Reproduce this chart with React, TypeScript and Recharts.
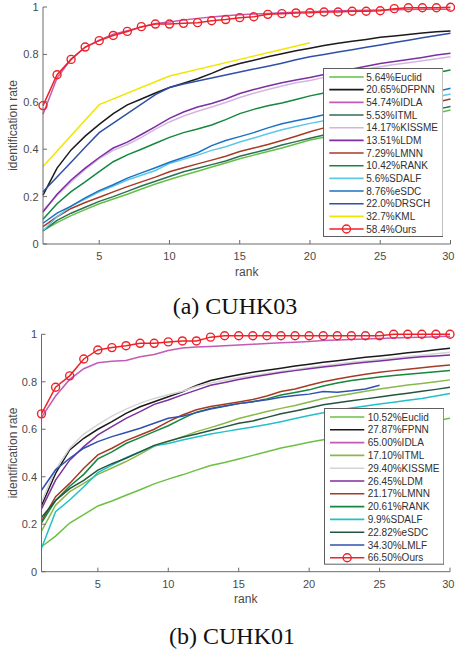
import React from 'react';
import { LineChart, Line, XAxis, YAxis, Legend, Label } from 'recharts';

// ---------- shared axis data ----------
const ranks = [1, 2, 3, 4, 5, 6, 7, 8, 9, 10, 11, 12, 13, 14, 15, 16, 17, 18, 19, 20, 21, 22, 23, 24, 25, 26, 27, 28, 29, 30];
const xTicks = [5, 10, 15, 20, 25, 30];
const yTicks = [0, 0.2, 0.4, 0.6, 0.8, 1];

// ---------- (a) CUHK03 ----------
const euclidA = [0.0564, 0.09, 0.12, 0.145, 0.17, 0.19, 0.21, 0.232, 0.253, 0.272, 0.29, 0.307, 0.325, 0.342, 0.36, 0.375, 0.39, 0.405, 0.422, 0.439, 0.45, 0.462, 0.475, 0.488, 0.5, 0.512, 0.525, 0.538, 0.552, 0.565];
const dfpnnA = [0.2065, 0.32, 0.397, 0.455, 0.505, 0.55, 0.587, 0.612, 0.637, 0.66, 0.678, 0.697, 0.72, 0.745, 0.762, 0.775, 0.79, 0.803, 0.815, 0.826, 0.838, 0.847, 0.855, 0.863, 0.872, 0.878, 0.884, 0.89, 0.896, 0.899];
const idlaA = [0.5474, 0.7, 0.78, 0.83, 0.86, 0.885, 0.9, 0.915, 0.93, 0.937, 0.945, 0.952, 0.958, 0.963, 0.967, 0.97, 0.973, 0.976, 0.978, 0.98, 0.982, 0.984, 0.985, 0.986, 0.987, 0.988, 0.989, 0.99, 0.99, 0.991];
const itmlA = [0.0553, 0.1, 0.13, 0.155, 0.18, 0.2, 0.222, 0.245, 0.265, 0.285, 0.305, 0.32, 0.335, 0.35, 0.37, 0.385, 0.4, 0.418, 0.432, 0.446, 0.46, 0.475, 0.49, 0.505, 0.518, 0.53, 0.542, 0.555, 0.568, 0.58];
const kissmeA = [0.1417, 0.205, 0.262, 0.315, 0.36, 0.395, 0.42, 0.45, 0.485, 0.515, 0.54, 0.56, 0.578, 0.597, 0.618, 0.636, 0.652, 0.667, 0.68, 0.69, 0.703, 0.715, 0.727, 0.738, 0.748, 0.757, 0.765, 0.773, 0.782, 0.79];
const ldmA = [0.1351, 0.21, 0.27, 0.32, 0.365, 0.405, 0.43, 0.462, 0.495, 0.53, 0.557, 0.578, 0.593, 0.612, 0.635, 0.652, 0.667, 0.68, 0.692, 0.703, 0.715, 0.727, 0.738, 0.75, 0.762, 0.77, 0.778, 0.787, 0.797, 0.805];
const lmnnA = [0.0729, 0.115, 0.15, 0.175, 0.197, 0.22, 0.242, 0.262, 0.282, 0.305, 0.322, 0.338, 0.354, 0.37, 0.39, 0.405, 0.42, 0.437, 0.455, 0.474, 0.49, 0.505, 0.518, 0.532, 0.545, 0.558, 0.57, 0.584, 0.598, 0.612];
const rankA = [0.1042, 0.17, 0.221, 0.262, 0.305, 0.347, 0.376, 0.4, 0.425, 0.45, 0.47, 0.485, 0.502, 0.525, 0.55, 0.568, 0.583, 0.595, 0.61, 0.625, 0.637, 0.647, 0.657, 0.667, 0.678, 0.69, 0.7, 0.712, 0.723, 0.734];
const sdalfA = [0.056, 0.115, 0.16, 0.19, 0.22, 0.245, 0.27, 0.29, 0.31, 0.34, 0.357, 0.375, 0.395, 0.41, 0.43, 0.447, 0.465, 0.482, 0.496, 0.509, 0.52, 0.532, 0.545, 0.557, 0.568, 0.58, 0.592, 0.605, 0.62, 0.633];
const esdcA = [0.0876, 0.13, 0.16, 0.195, 0.225, 0.25, 0.278, 0.3, 0.322, 0.345, 0.365, 0.385, 0.415, 0.437, 0.453, 0.47, 0.49, 0.507, 0.52, 0.532, 0.545, 0.557, 0.568, 0.58, 0.59, 0.603, 0.616, 0.63, 0.643, 0.657];
const drschA = [0.22, 0.283, 0.345, 0.408, 0.47, 0.51, 0.55, 0.59, 0.63, 0.66, 0.675, 0.688, 0.7, 0.713, 0.726, 0.738, 0.75, 0.763, 0.777, 0.79, 0.8, 0.81, 0.82, 0.83, 0.84, 0.85, 0.86, 0.87, 0.88, 0.889];
const kmlA = [0.327, null, null, null, 0.588, null, null, null, null, 0.709, null, null, null, null, 0.779, null, null, null, null, 0.849, null, null, null, null, null, null, null, null, null, null];
const oursA = [0.584, 0.714, 0.779, 0.831, 0.858, 0.88, 0.897, 0.917, 0.928, 0.928, 0.931, 0.934, 0.942, 0.947, 0.955, 0.959, 0.969, 0.972, 0.975, 0.976, 0.979, 0.979, 0.982, 0.982, 0.984, 0.993, 0.997, 0.997, 0.997, 0.999];

const labelsA = ['5.64%Euclid', '20.65%DFPNN', '54.74%IDLA', '5.53%ITML', '14.17%KISSME', '13.51%LDM', '7.29%LMNN', '10.42%RANK', '5.6%SDALF', '8.76%eSDC', '22.0%DRSCH', '32.7%KML', '58.4%Ours'];
const colorsA = ['#62c046', '#1a1a1a', '#c25bb5', '#2f6f55', '#d3b5e2', '#7b2fa0', '#a83a25', '#13883e', '#5dc8e6', '#1b72c2', '#2f50a8', '#f2e600', '#ee2228'];
const valuesA = [euclidA, dfpnnA, idlaA, itmlA, kissmeA, ldmA, lmnnA, rankA, sdalfA, esdcA, drschA, kmlA, oursA];

// ---------- (b) CUHK01 ----------
const euclidB = [0.1052, 0.15, 0.205, 0.24, 0.277, 0.298, 0.322, 0.345, 0.37, 0.39, 0.408, 0.428, 0.447, 0.46, 0.475, 0.49, 0.505, 0.521, 0.533, 0.545, 0.556, 0.566, 0.576, 0.586, 0.596, 0.606, 0.616, 0.626, 0.636, 0.646];
const fpnnB = [0.2787, 0.414, 0.513, 0.562, 0.6, 0.632, 0.667, 0.695, 0.716, 0.737, 0.758, 0.785, 0.805, 0.818, 0.83, 0.84, 0.849, 0.857, 0.866, 0.874, 0.882, 0.889, 0.896, 0.903, 0.909, 0.915, 0.922, 0.928, 0.935, 0.941];
const idlaB = [0.65, 0.74, 0.81, 0.855, 0.88, 0.886, 0.89, 0.905, 0.915, 0.932, 0.942, 0.946, 0.949, 0.952, 0.955, 0.958, 0.961, 0.964, 0.967, 0.97, 0.974, 0.976, 0.978, 0.98, 0.982, 0.984, 0.986, 0.988, 0.99, 0.992];
const itmlB = [0.171, 0.28, 0.337, 0.372, 0.41, 0.437, 0.464, 0.495, 0.528, 0.548, 0.568, 0.59, 0.607, 0.625, 0.645, 0.66, 0.675, 0.688, 0.7, 0.715, 0.73, 0.74, 0.75, 0.76, 0.77, 0.778, 0.786, 0.793, 0.8, 0.808];
const kissmeB = [0.294, 0.43, 0.52, 0.58, 0.62, 0.655, 0.685, 0.71, 0.73, 0.745, 0.76, 0.78, 0.795, 0.806, 0.817, 0.826, 0.835, 0.843, 0.852, 0.86, 0.868, 0.875, 0.882, 0.888, 0.894, 0.9, 0.906, 0.912, 0.918, 0.924];
const ldmB = [0.2645, 0.386, 0.47, 0.527, 0.576, 0.611, 0.646, 0.674, 0.705, 0.723, 0.745, 0.765, 0.785, 0.797, 0.81, 0.82, 0.83, 0.839, 0.847, 0.855, 0.862, 0.869, 0.876, 0.882, 0.888, 0.894, 0.9, 0.905, 0.909, 0.913];
const lmnnB = [0.2117, 0.316, 0.372, 0.436, 0.492, 0.52, 0.552, 0.576, 0.6, 0.632, 0.66, 0.682, 0.696, 0.705, 0.715, 0.725, 0.74, 0.759, 0.77, 0.785, 0.8, 0.812, 0.822, 0.832, 0.84, 0.847, 0.853, 0.859, 0.865, 0.871];
const rankB = [0.2061, 0.3, 0.36, 0.41, 0.475, 0.505, 0.54, 0.565, 0.59, 0.615, 0.645, 0.672, 0.688, 0.698, 0.708, 0.716, 0.728, 0.744, 0.755, 0.766, 0.782, 0.795, 0.805, 0.813, 0.82, 0.826, 0.832, 0.837, 0.842, 0.847];
const sdalfB = [0.099, 0.253, 0.302, 0.358, 0.417, 0.449, 0.48, 0.505, 0.53, 0.54, 0.555, 0.567, 0.58, 0.59, 0.6, 0.61, 0.62, 0.632, 0.645, 0.658, 0.67, 0.68, 0.69, 0.698, 0.706, 0.714, 0.722, 0.73, 0.74, 0.751];
const esdcB = [0.2282, 0.3, 0.35, 0.385, 0.428, 0.455, 0.478, 0.505, 0.532, 0.55, 0.566, 0.58, 0.595, 0.61, 0.625, 0.635, 0.65, 0.665, 0.677, 0.69, 0.703, 0.712, 0.72, 0.728, 0.736, 0.744, 0.752, 0.76, 0.768, 0.777];
const lmlfB = [0.343, 0.429, 0.478, 0.52, 0.548, 0.569, 0.586, 0.604, 0.625, 0.646, 0.655, 0.67, 0.685, 0.697, 0.708, 0.716, 0.724, 0.735, 0.742, 0.748, 0.759, 0.756, 0.762, 0.77, 0.785, null, null, null, null, null];
const oursB = [0.665, 0.777, 0.825, 0.896, 0.934, 0.944, 0.952, 0.962, 0.962, 0.968, 0.972, 0.972, 0.988, 0.994, 0.994, 0.994, 0.994, 0.994, 0.994, 0.994, 0.994, 0.994, 0.994, 0.994, 0.994, 1.0, 1.0, 1.0, 1.0, 1.0];

const labelsB = ['10.52%Euclid', '27.87%FPNN', '65.00%IDLA', '17.10%ITML', '29.40%KISSME', '26.45%LDM', '21.17%LMNN', '20.61%RANK', '9.9%SDALF', '22.82%eSDC', '34.30%LMLF', '66.50%Ours'];
const colorsB = ['#6cc040', '#1a1a1a', '#c25bb5', '#8ab84a', '#d4d4d4', '#7b2fa0', '#a83a25', '#13883e', '#22c0c8', '#24553e', '#3050b0', '#ee2228'];
const valuesB = [euclidB, fpnnB, idlaB, itmlB, kissmeB, ldmB, lmnnB, rankB, sdalfB, esdcB, lmlfB, oursB];

// ---------- styling ----------
const AXIS = '#6a6a6a';
const TXT = '#4a4a4a';
const SANS = "'Liberation Sans', Arial, Helvetica, sans-serif";
const SERIF = "'Liberation Serif', 'Times New Roman', serif";
const TICK_LEN = 4;
const PAGE_W = 455;

type Series = { key: string; label: string; color: string; values: (number | null)[]; marker: boolean };

function makeSeries(labels: string[], colors: string[], values: (number | null)[][], markerLabel: string): Series[] {
  return labels.map((label, i) => ({ key: 's' + i, label, color: colors[i], values: values[i], marker: label === markerLabel }));
}

function buildRows(series: Series[]) {
  return ranks.map((r, i) => {
    const row: any = { rank: r };
    series.forEach((s) => {
      row[s.key] = s.values[i];
    });
    return row;
  });
}

const BottomTick = (props: any) => {
  const { x, y, payload } = props;
  const label = String(payload.value);
  const halfW = label.length * 3.1;
  const tx = Math.min(x, PAGE_W - 0.5 - halfW);
  return (
    <g>
      <line x1={x} x2={x} y1={y} y2={y - TICK_LEN} stroke={AXIS} strokeWidth={1} />
      <text x={tx} y={y + 12} dy="0.355em" textAnchor="middle" fontSize={11} fill={TXT} fontFamily={SANS}>
        {label}
      </text>
    </g>
  );
};
const TopTick = (props: any) => {
  const { x, y } = props;
  return <line x1={x} x2={x} y1={y} y2={y + TICK_LEN} stroke={AXIS} strokeWidth={1} />;
};
const LeftTick = (props: any) => {
  const { x, y, payload } = props;
  return (
    <g>
      <line x1={x} x2={x + TICK_LEN} y1={y} y2={y} stroke={AXIS} strokeWidth={1} />
      <text x={x - 4.5} y={y} dy="0.355em" textAnchor="end" fontSize={11} fill={TXT} fontFamily={SANS}>
        {String(payload.value)}
      </text>
    </g>
  );
};
const RightTick = (props: any) => {
  const { x, y } = props;
  return <line x1={x} x2={x - TICK_LEN} y1={y} y2={y} stroke={AXIS} strokeWidth={1} />;
};

type LegendGeom = { left: number; top: number; width: number; height: number; rowTop: number; rowStep: number; lineX1: number; lineX2: number; textX: number };

const LegendBox = ({ series, g }: { series: Series[]; g: LegendGeom }) => (
  <svg width={g.width} height={g.height} style={{ display: 'block' }}>
    <rect x={0.5} y={0.5} width={g.width - 1} height={g.height - 1} fill="#ffffff" stroke="#5e5e5e" strokeWidth={1} />
    {series.map((s, i) => {
      const cy = g.rowTop + i * g.rowStep;
      return (
        <g key={s.key}>
          <line x1={g.lineX1} x2={g.lineX2} y1={cy} y2={cy} stroke={s.color} strokeWidth={1.6} />
          {s.marker ? <circle cx={(g.lineX1 + g.lineX2) / 2} cy={cy} r={4} fill="none" stroke={s.color} strokeWidth={1.4} /> : null}
          <text x={g.textX} y={cy} dy="0.355em" fontSize={10} fill="#303030" fontFamily={SANS}>
            {s.label}
          </text>
        </g>
      );
    })}
  </svg>
);

type PanelProps = {
  series: Series[];
  top: number;
  height: number;
  margin: { top: number; right: number; bottom: number; left: number };
  yAxisWidth: number;
  yLabelX: number;
  legend: LegendGeom;
};

const Panel = ({ series, top, height, margin, yAxisWidth, yLabelX, legend }: PanelProps) => {
  const data = buildRows(series);
  return (
    <div style={{ position: 'absolute', left: 0, top, width: 455, height }}>
      <LineChart width={455} height={height} data={data} margin={margin}>
        <XAxis
          dataKey="rank"
          type="number"
          domain={[1, 30]}
          ticks={xTicks}
          interval={0}
          height={30}
          tickSize={0}
          tickMargin={0}
          tick={<BottomTick />}
          stroke={AXIS}
          axisLine={{ stroke: AXIS, strokeWidth: 1 }}
          tickLine={false}
        >
          <Label
            content={(p: any) => {
              const vb = p.viewBox || {};
              return (
                <text x={vb.x + vb.width / 2} y={vb.y + 27.5} dy="0.355em" textAnchor="middle" fontSize={12} fill={TXT} fontFamily={SANS}>
                  rank
                </text>
              );
            }}
          />
        </XAxis>
        <XAxis
          xAxisId="top"
          orientation="top"
          dataKey="rank"
          type="number"
          domain={[1, 30]}
          ticks={xTicks}
          interval={0}
          height={0}
          tickSize={0}
          tickMargin={0}
          tick={<TopTick />}
          axisLine={{ stroke: AXIS, strokeWidth: 1 }}
          tickLine={false}
        />
        <YAxis
          type="number"
          domain={[0, 1]}
          ticks={yTicks}
          interval={0}
          width={yAxisWidth}
          tickSize={0}
          tickMargin={0}
          tick={<LeftTick />}
          axisLine={{ stroke: AXIS, strokeWidth: 1 }}
          tickLine={false}
        >
          <Label
            content={(p: any) => {
              const vb = p.viewBox || {};
              const cy = vb.y + vb.height / 2;
              return (
                <text x={yLabelX} y={cy} dy="0.355em" textAnchor="middle" fontSize={12} fill={TXT} fontFamily={SANS} transform={`rotate(-90 ${yLabelX} ${cy})`}>
                  identification rate
                </text>
              );
            }}
          />
        </YAxis>
        <YAxis
          yAxisId="right"
          orientation="right"
          type="number"
          domain={[0, 1]}
          ticks={yTicks}
          interval={0}
          width={0}
          tickSize={0}
          tickMargin={0}
          tick={<RightTick />}
          axisLine={{ stroke: AXIS, strokeWidth: 1 }}
          tickLine={false}
        />
        {series.map((s) => (
          <Line
            key={s.key}
            dataKey={s.key}
            name={s.label}
            type="linear"
            stroke={s.color}
            strokeWidth={1.5}
            dot={s.marker ? { r: 4, fill: 'none', stroke: s.color, strokeWidth: 1.4 } : false}
            activeDot={false}
            connectNulls={s.label.indexOf('KML') >= 0}
            isAnimationActive={false}
          />
        ))}
        <Legend
          layout="vertical"
          align="center"
          verticalAlign="middle"
          wrapperStyle={{ left: legend.left, top: legend.top, width: legend.width, height: legend.height, margin: 0, padding: 0 }}
          content={() => <LegendBox series={series} g={legend} />}
        />
      </LineChart>
    </div>
  );
};

const seriesA = makeSeries(labelsA, colorsA, valuesA, '58.4%Ours');
const seriesB = makeSeries(labelsB, colorsB, valuesB, '66.50%Ours');

export default function App() {
  return (
    <div style={{ position: 'absolute', left: 0, top: 0, width: 455, height: 650, background: '#ffffff', overflow: 'hidden' }}>
      <Panel
        series={seriesA}
        top={0}
        height={325}
        margin={{ top: 7, right: 4.5, bottom: 51, left: 0 }}
        yAxisWidth={43}
        yLabelX={13}
        legend={{ left: 322.7, top: 68.3, width: 120.6, height: 169, rowTop: 9, rowStep: 12.67, lineX1: 6.3, lineX2: 40.6, textX: 43.3 }}
      />
      <Panel
        series={seriesB}
        top={325}
        height={325}
        margin={{ top: 9.3, right: 5, bottom: 48.3, left: 0 }}
        yAxisWidth={41.5}
        yLabelX={12.5}
        legend={{ left: 324, top: 83.3, width: 120.3, height: 156.7, rowTop: 9, rowStep: 12.8, lineX1: 6, lineX2: 40.3, textX: 43.7 }}
      />
      <svg width={455} height={650} style={{ position: 'absolute', left: 0, top: 0, pointerEvents: 'none' }}>
        <text x={235} y={314} textAnchor="middle" fontSize={24} fill="#111" fontFamily={SERIF}>
          (a) CUHK03
        </text>
        <text x={232} y={644} textAnchor="middle" fontSize={24} fill="#111" fontFamily={SERIF}>
          (b) CUHK01
        </text>
      </svg>
    </div>
  );
}
